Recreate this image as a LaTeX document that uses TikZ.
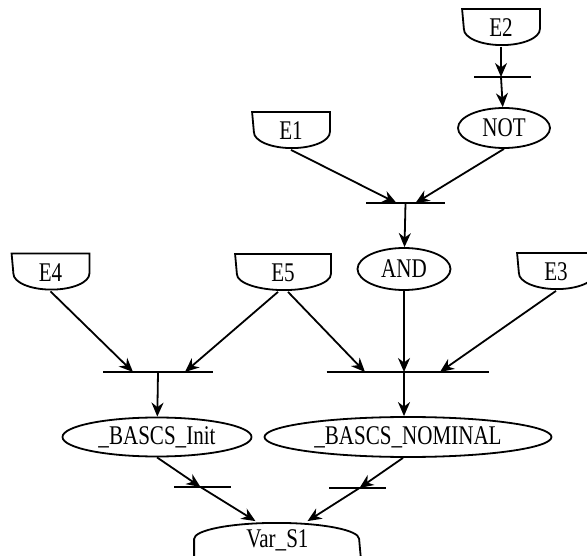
\documentclass[tikz,border=0pt]{standalone}
\usepackage{fontspec}
\setmainfont[FakeStretch=0.78]{Liberation Serif}
\usetikzlibrary{arrows.meta,shapes.geometric}

% outline of an event box: flat top, round bottom (#2 = half width)
\newcommand{\evtline}[2]{%
  \draw (#1.north west) -- (#1.north east) -- ([yshift=-20pt]#1.north east)
    arc[start angle=0,end angle=-180,x radius=#2pt,y radius=16pt] -- cycle;}

\begin{document}
\begin{tikzpicture}[x=1pt,y=-1pt,line width=1.8pt,
    every node/.style={font=\fontsize{27}{30}\selectfont,inner sep=0pt},
    evt/.style={minimum width=#1,minimum height=36pt},
    op/.style={ellipse,draw,minimum width=#1,minimum height=40pt},
    bar/.style={minimum width=#1,minimum height=0pt},
    arr/.style={-{Stealth[length=14pt,width=12pt,inset=4.5pt]}}]
    \useasboundingbox (0,0) rectangle (587,556);
    \clip (0,0) rectangle (587,556);

    \node[evt=76pt] (E2) at (501,28) {E2};
    \node[bar=55pt] (t2) at (502.5,77) {};
    \node[op=92pt] (not) at (504,128) {NOT};
    \node[evt=76pt] (E1) at (291,131) {E1};
    \node[bar=77pt] (t1) at (405.5,203) {};
    \node[op=93pt,minimum height=42pt] (and) at (404,269) {AND};
    \node[evt=76pt] (E4) at (50.5,272.5) {E4};
    \node[evt=94pt] (E5) at (283,273) {E5};
    \node[evt=76pt] (E3) at (556,272) {E3};
    \node[bar=108pt] (t3) at (158,372) {};
    \node[bar=161pt] (t4) at (408,372) {};
    \node[op=189pt,minimum height=39pt] (init) at (157,437) {\_BASCS\_Init};
    \node[op=287pt] (nom) at (408,437) {\_BASCS\_NOMINAL};
    \node[bar=55pt] (t5) at (202.5,487) {};
    \node[bar=55pt] (t6) at (357.5,488) {};
    \node[evt=165pt] (var) at (277.5,540) {Var\_S1};

    \evtline{E2}{38}
    \evtline{E1}{38}
    \evtline{E4}{38}
    \evtline{E5}{47}
    \evtline{E3}{38}
    \draw (var.south west) -- ([yshift=20pt]var.south west)
      arc[start angle=180,end angle=0,x radius=82.5pt,y radius=16pt]
      -- (var.south east) -- cycle;
    \foreach \t in {t1,t2,t3,t4,t5,t6}
      \draw (\t.west) -- (\t.east);

    % transitions
    \draw[arr] (E2.south) -- (E2.south |- t2.center);
    \draw[arr] (E2.south |- t2.center) -- (not);
    \draw[arr] (E1.south) -- ([xshift=-9pt]t1.center);
    \draw[arr] (not.south) -- ([xshift=10pt]t1.center);
    \draw[arr] (t1.center) -- (and);
    \draw[arr] (E4.south) -- ([xshift=-25pt]t3.center);
    \draw[arr] ([xshift=-5pt]E5.south) -- ([xshift=27pt]t3.center);
    \draw[arr] ([xshift=5pt]E5.south) -- ([xshift=-43pt]t4.center);
    \draw[arr] (and.south) -- (and.south |- t4.center);
    \draw[arr] (E3.south) -- ([xshift=32pt]t4.center);
    \draw[arr] (t3.center) -- (init);
    \draw[arr] (and.south |- t4.center) -- (and.south |- nom.north);
    \draw[arr] (init.south) -- ([xshift=-2pt]t5.center);
    \draw[arr] ([xshift=-2pt]t5.center) -- ([xshift=-22pt]var.north);
    \draw[arr] ([xshift=-5pt]nom.south) -- ([xshift=2pt]t6.center);
    \draw[arr] ([xshift=2pt]t6.center) -- ([xshift=30pt]var.north);
\end{tikzpicture}
\end{document}
